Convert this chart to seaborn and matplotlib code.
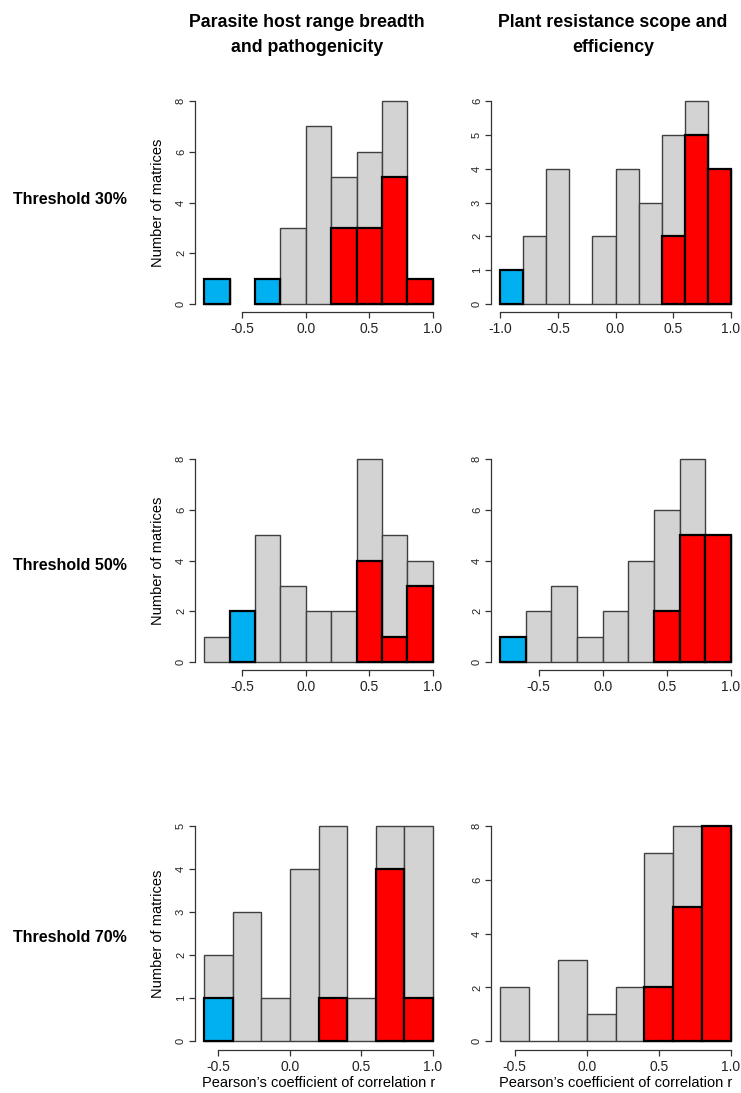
import numpy as np
import pandas as pd
import matplotlib
matplotlib.use("Agg")
import matplotlib.pyplot as plt
import seaborn as sns

# bin edges of the histograms (width 0.2)
edges_from_m08 = [-0.8, -0.6, -0.4, -0.2, 0.0, 0.2, 0.4, 0.6, 0.8, 1.0]
edges_from_m10 = [-1.0, -0.8, -0.6, -0.4, -0.2, 0.0, 0.2, 0.4, 0.6, 0.8, 1.0]
edges_from_m06 = [-0.6, -0.4, -0.2, 0.0, 0.2, 0.4, 0.6, 0.8, 1.0]

# Threshold 30%
host_30_total = [1, 0, 1, 3, 7, 5, 6, 8, 1]
host_30_red = [0, 0, 0, 0, 0, 3, 3, 5, 1]
host_30_blue = [1, 0, 1, 0, 0, 0, 0, 0, 0]
res_30_total = [1, 2, 4, 0, 2, 4, 3, 5, 6, 4]
res_30_red = [0, 0, 0, 0, 0, 0, 0, 2, 5, 4]
res_30_blue = [1, 0, 0, 0, 0, 0, 0, 0, 0, 0]

# Threshold 50%
host_50_total = [1, 2, 5, 3, 2, 2, 8, 5, 4]
host_50_red = [0, 0, 0, 0, 0, 0, 4, 1, 3]
host_50_blue = [0, 2, 0, 0, 0, 0, 0, 0, 0]
res_50_total = [1, 2, 3, 1, 2, 4, 6, 8, 5]
res_50_red = [0, 0, 0, 0, 0, 0, 2, 5, 5]
res_50_blue = [1, 0, 0, 0, 0, 0, 0, 0, 0]

# Threshold 70%
host_70_total = [2, 3, 1, 4, 5, 1, 5, 5]
host_70_red = [0, 0, 0, 0, 1, 0, 4, 1]
host_70_blue = [1, 0, 0, 0, 0, 0, 0, 0]
res_70_total = [2, 0, 3, 1, 2, 7, 8, 8]
res_70_red = [0, 0, 0, 0, 0, 2, 5, 8]
res_70_blue = [0, 0, 0, 0, 0, 0, 0, 0]

col_titles = ["Parasite host range breadth\nand pathogenicity",
              "Plant resistance scope and\nefficiency"]
row_titles = ["Threshold 30%", "Threshold 50%", "Threshold 70%"]
ylab = "Number of matrices"
xlab = "Pearson\u2019s coefficient of correlation r"

panels = [
    # row, col, edges, total, red, blue, yticks, xticks, draw empty bins
    (0, 0, edges_from_m08, host_30_total, host_30_red, host_30_blue, [0, 2, 4, 6, 8], [-0.5, 0.0, 0.5, 1.0], False),
    (0, 1, edges_from_m10, res_30_total, res_30_red, res_30_blue, [0, 1, 2, 3, 4, 5, 6], [-1.0, -0.5, 0.0, 0.5, 1.0], True),
    (1, 0, edges_from_m08, host_50_total, host_50_red, host_50_blue, [0, 2, 4, 6, 8], [-0.5, 0.0, 0.5, 1.0], True),
    (1, 1, edges_from_m08, res_50_total, res_50_red, res_50_blue, [0, 2, 4, 6, 8], [-0.5, 0.0, 0.5, 1.0], True),
    (2, 0, edges_from_m06, host_70_total, host_70_red, host_70_blue, [0, 1, 2, 3, 4, 5], [-0.5, 0.0, 0.5, 1.0], True),
    (2, 1, edges_from_m06, res_70_total, res_70_red, res_70_blue, [0, 2, 4, 6, 8], [-0.5, 0.0, 0.5, 1.0], True),
]

GREY = "#d3d3d3"
RED = "#ff0000"
BLUE = "#00b0f0"
AXC = "#333333"

sns.set_style("ticks")
plt.rcParams['font.family'] = ['Liberation Sans', 'DejaVu Sans']
plt.rcParams['text.color'] = 'black'

W, H = 741, 1093
fig = plt.figure(figsize=(W / 100, H / 100), dpi=100)

col_left = [195 / W, 491 / W]
col_w = [247 / W, 249 / W]
row_bottom = [1 - 312 / H, 1 - 670 / H, 1 - 1050 / H]
row_h = [219 / H, 219 / H, 233 / H]


def hist_layer(ax, edges, counts, color, ec, lw, keep_zero):
    e = np.array(edges)
    df = pd.DataFrame({"r": (e[:-1] + e[1:]) / 2, "n": counts})
    n0 = len(ax.patches)
    sns.histplot(data=df, x="r", weights="n", bins=list(edges), ax=ax, color=color,
                 edgecolor=ec, linewidth=lw, alpha=1)
    for p in ax.patches[n0:]:
        if p.get_height() == 0 and not keep_zero:
            p.set_visible(False)


for r, c, edges, total, red, blue, yt, xt, show_empty in panels:
    ax = fig.add_axes([col_left[c], row_bottom[r], col_w[c], row_h[r]])
    hist_layer(ax, edges, total, GREY, "#404040", 1.0, show_empty)
    if sum(red) > 0:
        hist_layer(ax, edges, red, RED, "black", 1.6, False)
    if sum(blue) > 0:
        hist_layer(ax, edges, blue, BLUE, "black", 1.6, False)

    lo, hi = edges[0], edges[-1]
    padx = 0.04 * (hi - lo)
    ymax = yt[-1]
    ax.set_xlim(lo - padx, hi + padx)
    ax.set_ylim(-0.04 * ymax, ymax * 1.04)
    ax.set_xticks(xt)
    ax.set_yticks(yt)
    ax.set_xticklabels([f"{v:.1f}" for v in xt])
    ax.set_yticklabels([str(v) for v in yt])
    for lab in ax.get_yticklabels():
        lab.set_rotation(90)
        lab.set_va("center")

    sns.despine(ax=ax)
    ax.spines["bottom"].set_bounds(xt[0], xt[-1])
    ax.spines["left"].set_bounds(yt[0], yt[-1])
    for s in ["bottom", "left"]:
        ax.spines[s].set_color(AXC)
        ax.spines[s].set_linewidth(0.9)
    ax.tick_params(axis="both", direction="out", length=4, width=0.9, color=AXC, labelcolor="#222222")
    ax.tick_params(axis="x", labelsize=10, pad=3.5)
    ax.tick_params(axis="y", labelsize=8, pad=2.5)

    ax.set_xlabel("")
    ax.set_ylabel("")
    if c == 0:
        ax.set_ylabel(ylab, fontsize=10.5, color="black")
        ax.yaxis.set_label_coords(-0.12, 0.5)
    if r == 2:
        ax.set_xlabel(xlab, fontsize=10.5, color="black")
        ax.xaxis.set_label_coords(0.5, -0.11)

# column headers
fig.text(307 / W, 1 - 14 / H, col_titles[0], ha="center", va="top", fontsize=12.8,
         fontweight="bold", linespacing=1.65)
fig.text(613 / W, 1 - 14 / H, col_titles[1], ha="center", va="top", fontsize=12.8,
         fontweight="bold", linespacing=1.65)

# row headers
for y, txt in zip([200, 565, 938], row_titles):
    fig.text(13 / W, 1 - y / H, txt, ha="left", va="center", fontsize=11.5, fontweight="bold")

fig.savefig("out.png", dpi=100)
